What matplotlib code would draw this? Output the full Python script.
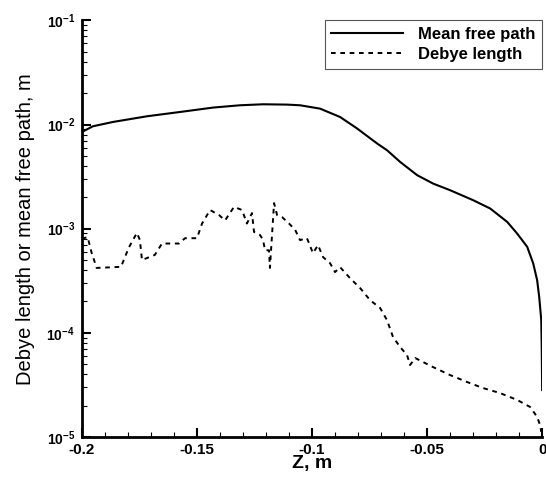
import numpy as np
import matplotlib.pyplot as plt
from matplotlib.ticker import FixedLocator, LogLocator, MultipleLocator, NullFormatter

plt.rcParams['font.family'] = ['Liberation Sans', 'DejaVu Sans']
plt.rcParams['mathtext.fontset'] = 'custom'
plt.rcParams['mathtext.rm'] = 'Liberation Sans'
plt.rcParams['mathtext.bf'] = 'Liberation Sans:bold'

# mean free path (solid)
z_mfp = [-0.2, -0.1952, -0.1865, -0.1717, -0.1574, -0.1430, -0.1313, -0.1213, -0.1109,
         -0.1052, -0.0965, -0.0878, -0.0804, -0.0717, -0.0674, -0.0617, -0.0543, -0.0474,
         -0.04, -0.0300, -0.0226, -0.0152, -0.0109, -0.0065, -0.0039, -0.0022, -0.0013,
         -0.0004, -0.0002, 0.0]
mfp = [8.48e-3, 9.62e-3, 1.058e-2, 1.20e-2, 1.319e-2, 1.454e-2, 1.53e-2, 1.564e-2, 1.553e-2,
       1.53e-2, 1.42e-2, 1.18e-2, 9.15e-3, 6.57e-3, 5.66e-3, 4.37e-3, 3.26e-3, 2.71e-3,
       2.34e-3, 1.877e-3, 1.562e-3, 1.162e-3, 8.99e-4, 6.69e-4, 4.64e-4, 3.21e-4, 2.22e-4,
       1.326e-4, 7.35e-5, 2.82e-5]

# Debye length (dashed)
z_deb = [-0.2, -0.1975, -0.1959, -0.1936, -0.183, -0.1796, -0.1761, -0.1748, -0.1739,
         -0.1683, -0.1652, -0.1578, -0.1552, -0.15, -0.1478, -0.1443, -0.1404, -0.1378,
         -0.1339, -0.1304, -0.1283, -0.1261, -0.1252, -0.1226, -0.1213, -0.1204, -0.1187,
         -0.1183, -0.1165, -0.1152, -0.113, -0.11, -0.1074, -0.1052, -0.1022, -0.0996,
         -0.0974, -0.0952, -0.0922, -0.0900, -0.0878, -0.0835, -0.0791, -0.0748, -0.0704,
         -0.0674, -0.0648, -0.0617, -0.0587, -0.0574, -0.0552, -0.0474, -0.04, -0.0326,
         -0.0257, -0.0183, -0.0109, -0.0052, -0.0022, -0.0009, -0.0004]
debye = [8.0e-4, 8.3e-4, 6.0e-4, 4.2e-4, 4.3e-4, 6.6e-4, 9.1e-4, 7.8e-4, 5.0e-4,
         5.6e-4, 7.2e-4, 7.2e-4, 8.1e-4, 8.1e-4, 1.12e-3, 1.51e-3, 1.35e-3, 1.2e-3,
         1.62e-3, 1.51e-3, 1.12e-3, 1.41e-3, 9.3e-4, 8.7e-4, 7.8e-4, 6.2e-4, 6.2e-4,
         4.2e-4, 1.76e-3, 1.35e-3, 1.29e-3, 1.12e-3, 9.8e-4, 7.76e-4, 8.11e-4, 5.82e-4,
         6.95e-4, 5.33e-4, 4.67e-4, 3.83e-4, 4.27e-4, 3.35e-4, 2.69e-4, 2.06e-4, 1.73e-4,
         1.32e-4, 9.1e-5, 7.3e-5, 6.1e-5, 4.91e-5, 5.73e-5, 4.69e-5, 3.93e-5, 3.37e-5,
         2.95e-5, 2.64e-5, 2.27e-5, 1.94e-5, 1.56e-5, 1.30e-5, 1.12e-5]

xticks = [-0.2, -0.15, -0.1, -0.05, 0]
xticklabels = ['-0.2', '-0.15', '-0.1', '-0.05', '0']
yticks = [1e-5, 1e-4, 1e-3, 1e-2, 1e-1]
yticklabels = [r'$\mathbf{10^{-5}}$', r'$\mathbf{10^{-4}}$', r'$\mathbf{10^{-3}}$',
               r'$\mathbf{10^{-2}}$', r'$\mathbf{10^{-1}}$']

fig = plt.figure(figsize=(5.46, 4.8), dpi=100)
ax = fig.add_axes([0.150, 0.0896, 0.843, 0.868])

ax.plot(z_mfp, mfp, color='black', lw=1.5, label='Mean free path')
ax.plot(z_deb, debye, color='black', lw=1.4, ls=(0, (2.4, 2.4)), label='Debye length')

ax.set_yscale('log')
ax.set_xlim(-0.2, 0)
ax.set_ylim(1e-5, 1e-1)

ax.set_xticks(xticks)
ax.set_xticklabels(xticklabels, fontweight='bold', fontsize=11)
ax.xaxis.set_minor_locator(MultipleLocator(0.01))
ax.yaxis.set_major_locator(FixedLocator(yticks))
ax.set_yticklabels(yticklabels, fontsize=10)
ax.yaxis.set_minor_locator(LogLocator(base=10, subs=np.arange(2, 10)))
ax.yaxis.set_minor_formatter(NullFormatter())

ax.tick_params(which='major', direction='in', length=6.5, width=1.5)
ax.tick_params(axis='x', which='major', pad=4)
ax.tick_params(axis='y', which='major', pad=5)
ax.tick_params(which='minor', direction='in', length=3.5, width=0.8)

for s in ['top', 'right']:
    ax.spines[s].set_visible(False)
for s in ['left', 'bottom']:
    ax.spines[s].set_linewidth(2)

ax.set_xlabel('Z, m', fontsize=14, fontweight='bold', labelpad=-1)
ax.set_ylabel('Debye length or mean free path, m', fontsize=14.5, labelpad=8)

leg = ax.legend(loc='upper right', bbox_to_anchor=(1.0, 1.0), fancybox=False,
                edgecolor='#555555', framealpha=1, handlelength=4.3,
                prop={'weight': 'bold', 'size': 12}, borderaxespad=0,
                labelspacing=0.3, handletextpad=0.9, borderpad=0.4)
leg.get_frame().set_linewidth(0.8)

fig.savefig('out.png', dpi=100)
